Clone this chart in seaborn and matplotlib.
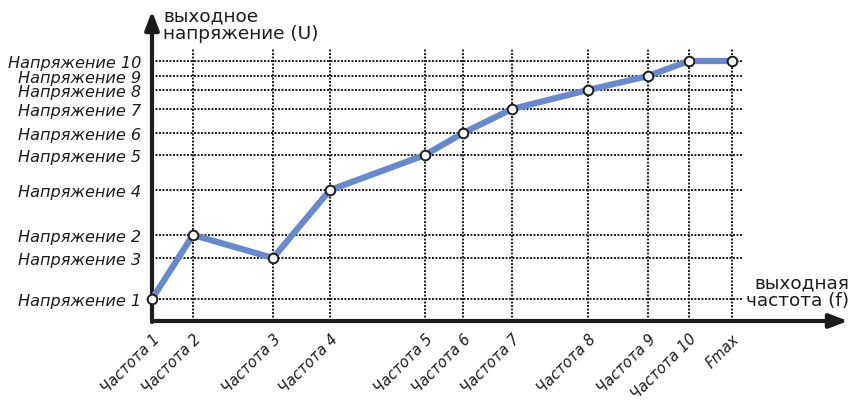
import matplotlib
matplotlib.use("Agg")
import matplotlib.pyplot as plt
import seaborn as sns
import pandas as pd

# Frequency points (relative units along the horizontal axis)
freq_labels = ["Частота 1", "Частота 2", "Частота 3", "Частота 4", "Частота 5",
               "Частота 6", "Частота 7", "Частота 8", "Частота 9", "Частота 10", "Fmax"]
freq_values = [0, 41, 121, 178, 273, 311, 360, 436, 496, 537, 580]

# Output voltage at each frequency point (relative units)
volt_labels = ["Напряжение 1", "Напряжение 2", "Напряжение 3", "Напряжение 4",
               "Напряжение 5", "Напряжение 6", "Напряжение 7", "Напряжение 8",
               "Напряжение 9", "Напряжение 10"]
volt_values = [22, 86, 63, 131, 166, 188, 212, 231, 245, 260]

# Voltage reached at each frequency point (Fmax keeps Напряжение 10)
curve_volt = volt_values + [volt_values[-1]]

sns.set_style("white")
plt.rcParams["font.family"] = ["DejaVu Sans"]

W, H = 850, 402
fig = plt.figure(figsize=(W / 100, H / 100), dpi=100)
x0, y0 = 152, 322          # origin in pixels (from left / from top)
x_end, y_end = 848, 12     # arrow tips
ax = fig.add_axes([x0 / W, (H - y0) / H, (x_end - x0) / W, (y0 - y_end) / H])
ax.set_xlim(0, x_end - x0)
ax.set_ylim(0, y0 - y_end)
for s in ax.spines.values():
    s.set_visible(False)

ink = "#1c1c1c"

# dotted grid
ax.hlines(volt_values, 0, 590, colors=ink, linestyles=(0, (1, 0.8)), linewidth=1.4, zorder=1)
ax.vlines(freq_values[1:], 0, 272, colors=ink, linestyles=(0, (1, 0.8)), linewidth=1.4, zorder=1)

# axes with arrows
ax.annotate("", xy=(x_end - x0, 0), xytext=(0, 0),
            arrowprops=dict(arrowstyle="-|>,head_length=1.1,head_width=0.42",
                            color=ink, lw=3, shrinkA=0, shrinkB=0), annotation_clip=False)
ax.annotate("", xy=(0, y0 - y_end), xytext=(0, -1),
            arrowprops=dict(arrowstyle="-|>,head_length=1.1,head_width=0.42",
                            color=ink, lw=3, shrinkA=0, shrinkB=0), annotation_clip=False)

# characteristic curve
df = pd.DataFrame({"f": freq_values, "U": curve_volt})
sns.lineplot(data=df, x="f", y="U", ax=ax, color="#6889cb", linewidth=4.5,
             sort=False, zorder=3, clip_on=False)
ax.scatter(freq_values, curve_volt, s=48, facecolor="white", edgecolor=ink,
           linewidth=1.4, zorder=4, clip_on=False)

# ticks
ax.set_xticks(freq_values)
ax.set_xticklabels(freq_labels, rotation=45, ha="right", rotation_mode="anchor",
                   fontstyle="italic", fontsize=10.5, color=ink)
ax.set_yticks(volt_values)
ax.set_yticklabels(volt_labels, fontstyle="italic", fontsize=11.6, color=ink)
ax.tick_params(axis="x", direction="inout", length=10, width=2.5, color=ink, pad=2)
ax.tick_params(axis="y", direction="inout", length=14, width=2.5, color=ink, pad=1)
ax.set_xlabel("")
ax.set_ylabel("")

# axis titles
fig.text(163 / W, 1 - 7 / H, "выходное\nнапряжение (U)", ha="left", va="top",
         fontsize=13.3, color=ink, linespacing=1.0)
fig.text(849 / W, 1 - 274 / H, "выходная\nчастота (f)", ha="right", va="top",
         fontsize=13.3, color=ink, linespacing=1.0)

fig.savefig("out.png", dpi=100)
